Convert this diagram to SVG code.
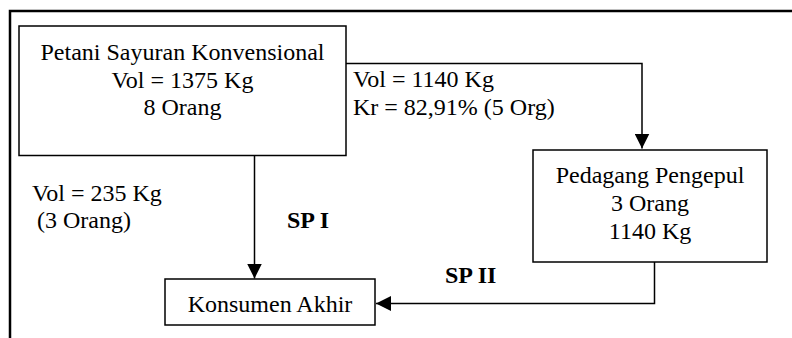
<svg xmlns="http://www.w3.org/2000/svg" width="792" height="338" viewBox="0 0 792 338">
<defs>
<marker id="ah" viewBox="0 0 15 15" refX="15" refY="7.5" markerWidth="15" markerHeight="15" markerUnits="userSpaceOnUse" orient="auto">
<path d="M0,0 L15,7.5 L0,15 Z" fill="#000"/>
</marker>
</defs>
<style>
text{font-family:'Liberation Serif','Times New Roman','DejaVu Serif',serif;font-size:24px;fill:#000}
.c{text-anchor:middle}
.b{font-weight:bold}
.box{fill:#fff;stroke:#000;stroke-width:1.5}
.ln{fill:none;stroke:#000;stroke-width:1.5}
</style>
<rect width="792" height="338" fill="#fff"/>
<path d="M10,338 V11 H792" fill="none" stroke="#000" stroke-width="2.5"/>
<g id="connectors">
<path class="ln" d="M346,63.5 H642 V148.5" marker-end="url(#ah)"/>
<path class="ln" d="M254.5,155.5 V278.5" marker-end="url(#ah)"/>
<path class="ln" d="M654.5,262 V303.5 H376" marker-end="url(#ah)"/>
</g>
<g id="petani" font-family="Liberation Serif, serif">
<rect class="box" x="19" y="26" width="327" height="129.5"/>
<text class="c" x="182.5" y="60">Petani Sayuran Konvensional</text>
<text class="c" x="182.5" y="88">Vol = 1375 Kg</text>
<text class="c" x="182.5" y="115">8 Orang</text>
</g>
<g id="pedagang">
<rect class="box" x="533" y="150" width="234" height="112"/>
<text class="c" x="650" y="183">Pedagang Pengepul</text>
<text class="c" x="650" y="211">3 Orang</text>
<text class="c" x="650" y="239">1140 Kg</text>
</g>
<g id="konsumen">
<rect class="box" x="165" y="279" width="210" height="46"/>
<text class="c" x="270" y="312">Konsumen Akhir</text>
</g>
<g id="labels">
<text x="353" y="87">Vol = 1140 Kg</text>
<text x="353" y="115">Kr = 82,91% (5 Org)</text>
<text x="32" y="201">Vol = 235 Kg</text>
<text x="37" y="228">(3 Orang)</text>
<text class="b" x="287" y="228">SP I</text>
<text class="b" x="445" y="283">SP II</text>
</g>
</svg>
